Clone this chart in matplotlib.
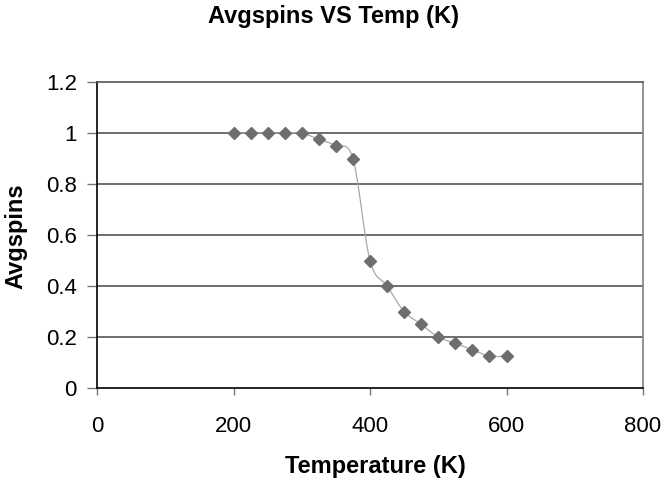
import numpy as np
import matplotlib.pyplot as plt
from matplotlib.path import Path
from matplotlib.patches import PathPatch

# data
temps = [200, 225, 250, 275, 300, 325, 350, 375, 400, 425, 450, 475, 500, 525, 550, 575, 600]
avgspins = [1, 1, 1, 1, 1, 0.975, 0.95, 0.9, 0.5, 0.4, 0.3, 0.25, 0.2, 0.175, 0.15, 0.125, 0.125]

x_ticks = [0, 200, 400, 600, 800]
y_ticks = [0, 0.2, 0.4, 0.6, 0.8, 1, 1.2]
y_labels = ["0", "0.2", "0.4", "0.6", "0.8", "1", "1.2"]

plt.rcParams["font.family"] = ["Liberation Sans", "DejaVu Sans"]

W, H = 665, 482
fig = plt.figure(figsize=(W / 100, H / 100), dpi=100)
# plot area: x 97..643 px, y 82..388 px
ax = fig.add_axes([97 / W, 1 - 388 / H, 546 / W, 306 / H])


def smooth_path(xs, ys, tension=1 / 6):
    # excel-like smoothed line as cubic bezier segments (catmull-rom)
    pts = np.column_stack([xs, ys]).astype(float)
    verts = [pts[0]]
    codes = [Path.MOVETO]
    n = len(pts)
    for i in range(n - 1):
        p0 = pts[i - 1] if i > 0 else pts[i]
        p1 = pts[i]
        p2 = pts[i + 1]
        p3 = pts[i + 2] if i + 2 < n else pts[i + 1]
        c1 = p1 + (p2 - p0) * tension
        c2 = p2 - (p3 - p1) * tension
        verts += [c1, c2, p2]
        codes += [Path.CURVE4] * 3
    return Path(verts, codes)


ax.add_patch(PathPatch(smooth_path(temps, avgspins), fill=False,
                       edgecolor="#a8a8a8", linewidth=0.9, zorder=3))
ax.plot(temps, avgspins, linestyle="none", marker="D", markersize=6.5,
        color="#6e6e6e", zorder=4)

ax.set_xlim(0, 800)
ax.set_ylim(0, 1.2)
ax.set_xticks(x_ticks)
ax.set_yticks(y_ticks)
ax.set_yticklabels(y_labels)

for y in y_ticks[1:-1]:
    ax.axhline(y, color="#555555", linewidth=1.2, zorder=1)

ax.spines["left"].set_color("black")
ax.spines["bottom"].set_color("black")
ax.spines["top"].set_color("#555555")
ax.spines["right"].set_color("#808080")
for s in ax.spines.values():
    s.set_linewidth(1.2)

ax.tick_params(axis="x", direction="out", length=5, width=1, colors="#777777",
               labelcolor="black", labelsize=16, pad=15)
ax.tick_params(axis="y", direction="out", length=7, width=1, colors="#777777",
               labelcolor="black", labelsize=16, pad=7.5)

fig.text(375 / W, 1 - 466 / H, "Temperature (K)", fontsize=17, fontweight="bold",
         ha="center", va="center")
fig.text(15.5 / W, 1 - 236 / H, "Avgspins", fontsize=17, fontweight="bold",
         rotation=90, ha="center", va="center")
fig.text(333 / W, 1 - 16 / H, "Avgspins VS Temp (K)", fontsize=17, fontweight="bold",
         ha="center", va="center")

fig.savefig("out.png", dpi=100)
